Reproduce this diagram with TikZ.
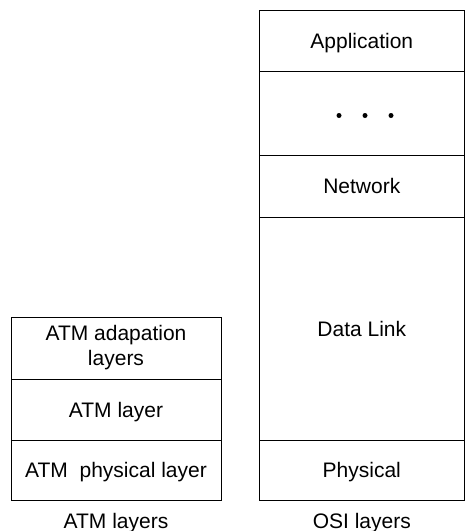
\documentclass[tikz,border=0pt]{standalone}
\usepackage{fontspec}
\setmainfont{Liberation Sans}
\begin{document}
\begin{tikzpicture}[x=1pt,y=-1pt,
  cell/.style={draw=black, line width=1pt, rectangle, inner sep=0pt, outer sep=0pt,
    align=center, font=\fontsize{21}{25}\selectfont},
  oneline/.style={text height=15.3pt, text depth=0pt},
  lbl/.style={inner sep=0pt, anchor=base, font=\fontsize{21}{25}\selectfont},
  dotmark/.style={circle, fill=black, inner sep=0pt, minimum size=5pt}]
\useasboundingbox (0,0) rectangle (466,531);
% ATM stack
\node[cell, minimum width=210pt, minimum height=62pt] (aal) at (116,348) {ATM adapation\\layers};
\node[cell, oneline, minimum width=210pt, minimum height=61pt] (atm) at (116,409.5) {ATM layer};
\node[cell, oneline, minimum width=210pt, minimum height=60pt] (aphy) at (116,470) {ATM\ \ physical layer};
\node[lbl] (atmlbl) at (116,528) {ATM layers};
% OSI stack
\node[cell, oneline, minimum width=205pt, minimum height=61pt] (app) at (361.8,40.5) {Application};
\node[cell, minimum width=205pt, minimum height=84pt] (mid) at (361.8,113) {};
\node[cell, oneline, minimum width=205pt, minimum height=62pt] (net) at (361.8,186) {Network};
\node[cell, oneline, minimum width=205pt, minimum height=223pt] (dl) at (361.8,328.5) {Data Link};
\node[cell, oneline, minimum width=205pt, minimum height=60pt] (phy) at (361.8,470) {Physical};
\node[lbl] (osilbl) at (361.8,528) {OSI layers};
\node[dotmark] (d1) at (339,115.5) {};
\node[dotmark] (d2) at (365,115.5) {};
\node[dotmark] (d3) at (391,115.5) {};
\end{tikzpicture}
\end{document}
